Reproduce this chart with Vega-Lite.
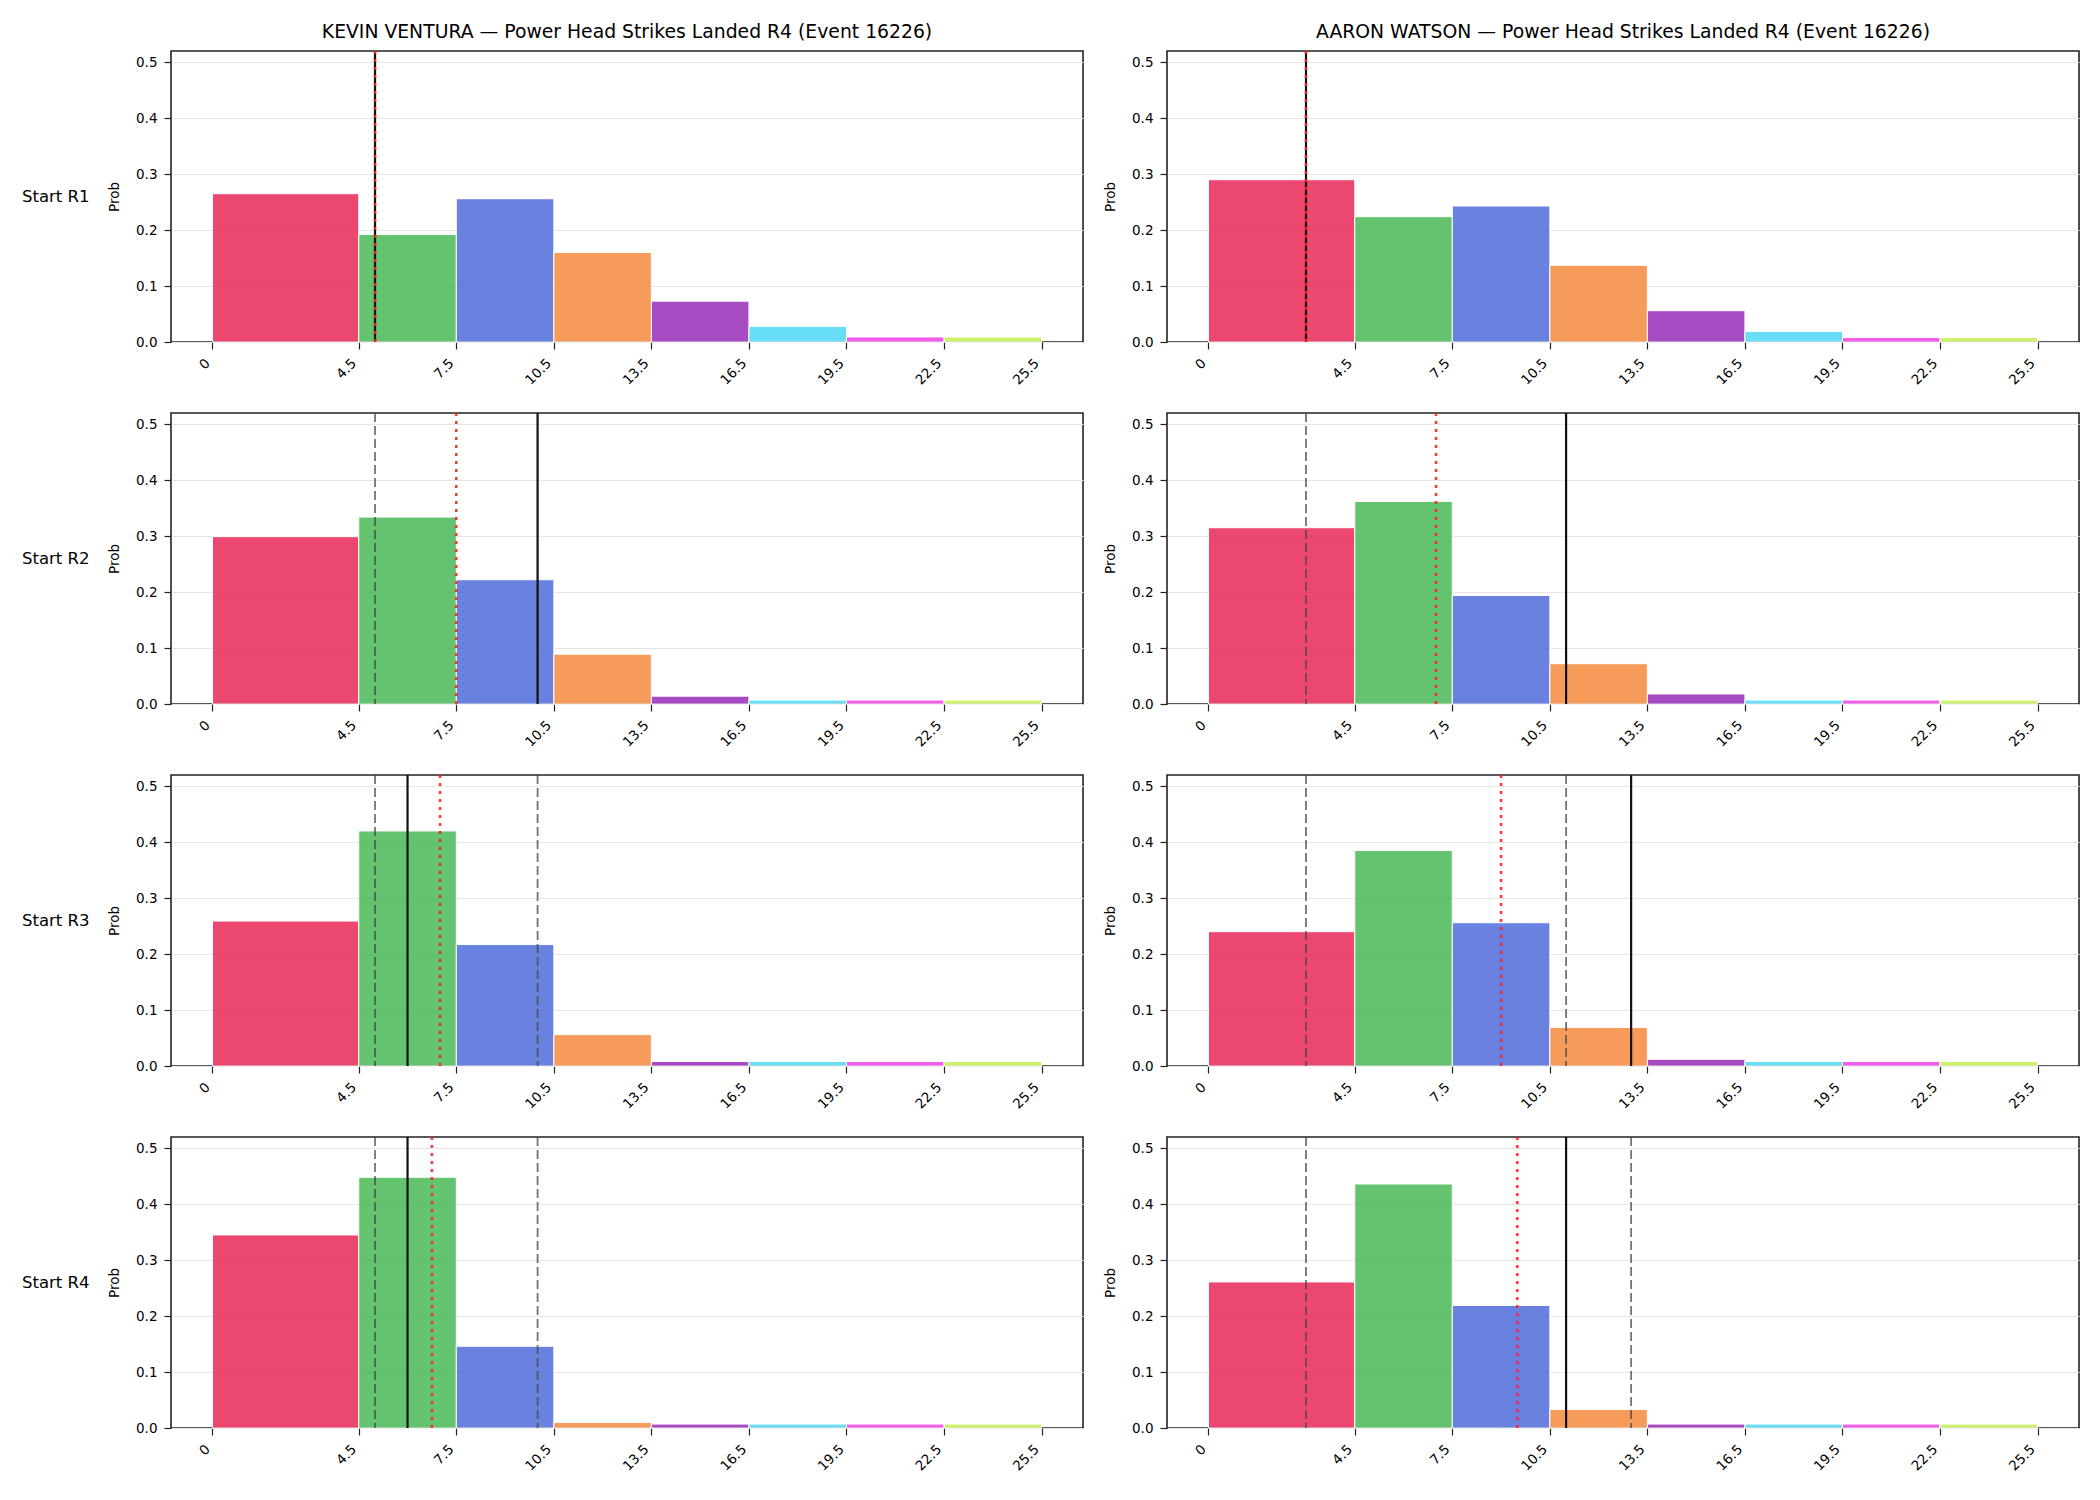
{
  "$schema": "https://vega.github.io/schema/vega-lite/v6.json",
  "background": "white",
  "padding": {"left": 21, "top": 23, "right": 10, "bottom": 10},
  "config": {
    "font": "DejaVu Sans",
    "view": {"stroke": "#222222", "strokeWidth": 1.6},
    "axis": {"labelColor": "#000000", "tickColor": "#222222", "titleColor": "#000000", "labelFont": "DejaVu Sans", "titleFont": "DejaVu Sans"}
  },
  "data": {
    "values": [
      {"t": "bar", "f": "KEVIN VENTURA", "s": "Start R1", "lo": 0, "hi": 4.5, "p": 0.265},
      {"t": "bar", "f": "KEVIN VENTURA", "s": "Start R1", "lo": 4.5, "hi": 7.5, "p": 0.192},
      {"t": "bar", "f": "KEVIN VENTURA", "s": "Start R1", "lo": 7.5, "hi": 10.5, "p": 0.256},
      {"t": "bar", "f": "KEVIN VENTURA", "s": "Start R1", "lo": 10.5, "hi": 13.5, "p": 0.160},
      {"t": "bar", "f": "KEVIN VENTURA", "s": "Start R1", "lo": 13.5, "hi": 16.5, "p": 0.073},
      {"t": "bar", "f": "KEVIN VENTURA", "s": "Start R1", "lo": 16.5, "hi": 19.5, "p": 0.028},
      {"t": "bar", "f": "KEVIN VENTURA", "s": "Start R1", "lo": 19.5, "hi": 22.5, "p": 0.009},
      {"t": "bar", "f": "KEVIN VENTURA", "s": "Start R1", "lo": 22.5, "hi": 25.5, "p": 0.009},
      {"t": "bar", "f": "AARON WATSON", "s": "Start R1", "lo": 0, "hi": 4.5, "p": 0.290},
      {"t": "bar", "f": "AARON WATSON", "s": "Start R1", "lo": 4.5, "hi": 7.5, "p": 0.224},
      {"t": "bar", "f": "AARON WATSON", "s": "Start R1", "lo": 7.5, "hi": 10.5, "p": 0.243},
      {"t": "bar", "f": "AARON WATSON", "s": "Start R1", "lo": 10.5, "hi": 13.5, "p": 0.137},
      {"t": "bar", "f": "AARON WATSON", "s": "Start R1", "lo": 13.5, "hi": 16.5, "p": 0.056},
      {"t": "bar", "f": "AARON WATSON", "s": "Start R1", "lo": 16.5, "hi": 19.5, "p": 0.019},
      {"t": "bar", "f": "AARON WATSON", "s": "Start R1", "lo": 19.5, "hi": 22.5, "p": 0.008},
      {"t": "bar", "f": "AARON WATSON", "s": "Start R1", "lo": 22.5, "hi": 25.5, "p": 0.008},
      {"t": "bar", "f": "KEVIN VENTURA", "s": "Start R2", "lo": 0, "hi": 4.5, "p": 0.299},
      {"t": "bar", "f": "KEVIN VENTURA", "s": "Start R2", "lo": 4.5, "hi": 7.5, "p": 0.334},
      {"t": "bar", "f": "KEVIN VENTURA", "s": "Start R2", "lo": 7.5, "hi": 10.5, "p": 0.222},
      {"t": "bar", "f": "KEVIN VENTURA", "s": "Start R2", "lo": 10.5, "hi": 13.5, "p": 0.089},
      {"t": "bar", "f": "KEVIN VENTURA", "s": "Start R2", "lo": 13.5, "hi": 16.5, "p": 0.014},
      {"t": "bar", "f": "KEVIN VENTURA", "s": "Start R2", "lo": 16.5, "hi": 19.5, "p": 0.007},
      {"t": "bar", "f": "KEVIN VENTURA", "s": "Start R2", "lo": 19.5, "hi": 22.5, "p": 0.007},
      {"t": "bar", "f": "KEVIN VENTURA", "s": "Start R2", "lo": 22.5, "hi": 25.5, "p": 0.007},
      {"t": "bar", "f": "AARON WATSON", "s": "Start R2", "lo": 0, "hi": 4.5, "p": 0.315},
      {"t": "bar", "f": "AARON WATSON", "s": "Start R2", "lo": 4.5, "hi": 7.5, "p": 0.362},
      {"t": "bar", "f": "AARON WATSON", "s": "Start R2", "lo": 7.5, "hi": 10.5, "p": 0.194},
      {"t": "bar", "f": "AARON WATSON", "s": "Start R2", "lo": 10.5, "hi": 13.5, "p": 0.072},
      {"t": "bar", "f": "AARON WATSON", "s": "Start R2", "lo": 13.5, "hi": 16.5, "p": 0.018},
      {"t": "bar", "f": "AARON WATSON", "s": "Start R2", "lo": 16.5, "hi": 19.5, "p": 0.007},
      {"t": "bar", "f": "AARON WATSON", "s": "Start R2", "lo": 19.5, "hi": 22.5, "p": 0.007},
      {"t": "bar", "f": "AARON WATSON", "s": "Start R2", "lo": 22.5, "hi": 25.5, "p": 0.007},
      {"t": "bar", "f": "KEVIN VENTURA", "s": "Start R3", "lo": 0, "hi": 4.5, "p": 0.259},
      {"t": "bar", "f": "KEVIN VENTURA", "s": "Start R3", "lo": 4.5, "hi": 7.5, "p": 0.420},
      {"t": "bar", "f": "KEVIN VENTURA", "s": "Start R3", "lo": 7.5, "hi": 10.5, "p": 0.217},
      {"t": "bar", "f": "KEVIN VENTURA", "s": "Start R3", "lo": 10.5, "hi": 13.5, "p": 0.056},
      {"t": "bar", "f": "KEVIN VENTURA", "s": "Start R3", "lo": 13.5, "hi": 16.5, "p": 0.008},
      {"t": "bar", "f": "KEVIN VENTURA", "s": "Start R3", "lo": 16.5, "hi": 19.5, "p": 0.008},
      {"t": "bar", "f": "KEVIN VENTURA", "s": "Start R3", "lo": 19.5, "hi": 22.5, "p": 0.008},
      {"t": "bar", "f": "KEVIN VENTURA", "s": "Start R3", "lo": 22.5, "hi": 25.5, "p": 0.008},
      {"t": "bar", "f": "AARON WATSON", "s": "Start R3", "lo": 0, "hi": 4.5, "p": 0.240},
      {"t": "bar", "f": "AARON WATSON", "s": "Start R3", "lo": 4.5, "hi": 7.5, "p": 0.385},
      {"t": "bar", "f": "AARON WATSON", "s": "Start R3", "lo": 7.5, "hi": 10.5, "p": 0.256},
      {"t": "bar", "f": "AARON WATSON", "s": "Start R3", "lo": 10.5, "hi": 13.5, "p": 0.069},
      {"t": "bar", "f": "AARON WATSON", "s": "Start R3", "lo": 13.5, "hi": 16.5, "p": 0.012},
      {"t": "bar", "f": "AARON WATSON", "s": "Start R3", "lo": 16.5, "hi": 19.5, "p": 0.008},
      {"t": "bar", "f": "AARON WATSON", "s": "Start R3", "lo": 19.5, "hi": 22.5, "p": 0.008},
      {"t": "bar", "f": "AARON WATSON", "s": "Start R3", "lo": 22.5, "hi": 25.5, "p": 0.008},
      {"t": "bar", "f": "KEVIN VENTURA", "s": "Start R4", "lo": 0, "hi": 4.5, "p": 0.345},
      {"t": "bar", "f": "KEVIN VENTURA", "s": "Start R4", "lo": 4.5, "hi": 7.5, "p": 0.448},
      {"t": "bar", "f": "KEVIN VENTURA", "s": "Start R4", "lo": 7.5, "hi": 10.5, "p": 0.146},
      {"t": "bar", "f": "KEVIN VENTURA", "s": "Start R4", "lo": 10.5, "hi": 13.5, "p": 0.010},
      {"t": "bar", "f": "KEVIN VENTURA", "s": "Start R4", "lo": 13.5, "hi": 16.5, "p": 0.007},
      {"t": "bar", "f": "KEVIN VENTURA", "s": "Start R4", "lo": 16.5, "hi": 19.5, "p": 0.007},
      {"t": "bar", "f": "KEVIN VENTURA", "s": "Start R4", "lo": 19.5, "hi": 22.5, "p": 0.007},
      {"t": "bar", "f": "KEVIN VENTURA", "s": "Start R4", "lo": 22.5, "hi": 25.5, "p": 0.007},
      {"t": "bar", "f": "AARON WATSON", "s": "Start R4", "lo": 0, "hi": 4.5, "p": 0.261},
      {"t": "bar", "f": "AARON WATSON", "s": "Start R4", "lo": 4.5, "hi": 7.5, "p": 0.436},
      {"t": "bar", "f": "AARON WATSON", "s": "Start R4", "lo": 7.5, "hi": 10.5, "p": 0.219},
      {"t": "bar", "f": "AARON WATSON", "s": "Start R4", "lo": 10.5, "hi": 13.5, "p": 0.033},
      {"t": "bar", "f": "AARON WATSON", "s": "Start R4", "lo": 13.5, "hi": 16.5, "p": 0.007},
      {"t": "bar", "f": "AARON WATSON", "s": "Start R4", "lo": 16.5, "hi": 19.5, "p": 0.007},
      {"t": "bar", "f": "AARON WATSON", "s": "Start R4", "lo": 19.5, "hi": 22.5, "p": 0.007},
      {"t": "bar", "f": "AARON WATSON", "s": "Start R4", "lo": 22.5, "hi": 25.5, "p": 0.007},
      {"t": "solid", "f": "KEVIN VENTURA", "s": "Start R1", "x": 5},
      {"t": "dot", "f": "KEVIN VENTURA", "s": "Start R1", "x": 5},
      {"t": "solid", "f": "AARON WATSON", "s": "Start R1", "x": 3},
      {"t": "dot", "f": "AARON WATSON", "s": "Start R1", "x": 3},
      {"t": "dash", "f": "KEVIN VENTURA", "s": "Start R2", "x": 5},
      {"t": "dot", "f": "KEVIN VENTURA", "s": "Start R2", "x": 7.5},
      {"t": "solid", "f": "KEVIN VENTURA", "s": "Start R2", "x": 10},
      {"t": "dash", "f": "AARON WATSON", "s": "Start R2", "x": 3},
      {"t": "dot", "f": "AARON WATSON", "s": "Start R2", "x": 7},
      {"t": "solid", "f": "AARON WATSON", "s": "Start R2", "x": 11},
      {"t": "dash", "f": "KEVIN VENTURA", "s": "Start R3", "x": 5},
      {"t": "solid", "f": "KEVIN VENTURA", "s": "Start R3", "x": 6},
      {"t": "dot", "f": "KEVIN VENTURA", "s": "Start R3", "x": 7},
      {"t": "dash", "f": "KEVIN VENTURA", "s": "Start R3", "x": 10},
      {"t": "dash", "f": "AARON WATSON", "s": "Start R3", "x": 3},
      {"t": "dot", "f": "AARON WATSON", "s": "Start R3", "x": 9},
      {"t": "dash", "f": "AARON WATSON", "s": "Start R3", "x": 11},
      {"t": "solid", "f": "AARON WATSON", "s": "Start R3", "x": 13},
      {"t": "dash", "f": "KEVIN VENTURA", "s": "Start R4", "x": 5},
      {"t": "solid", "f": "KEVIN VENTURA", "s": "Start R4", "x": 6},
      {"t": "dot", "f": "KEVIN VENTURA", "s": "Start R4", "x": 6.75},
      {"t": "dash", "f": "KEVIN VENTURA", "s": "Start R4", "x": 10},
      {"t": "dash", "f": "AARON WATSON", "s": "Start R4", "x": 3},
      {"t": "dot", "f": "AARON WATSON", "s": "Start R4", "x": 9.5},
      {"t": "solid", "f": "AARON WATSON", "s": "Start R4", "x": 11},
      {"t": "dash", "f": "AARON WATSON", "s": "Start R4", "x": 13}
    ]
  },
  "facet": {
    "row": {"field": "s", "type": "nominal", "sort": ["Start R1", "Start R2", "Start R3", "Start R4"], "header": {"title": null, "labelAngle": 0, "labelOrient": "left", "labelFontSize": 16.5, "labelColor": "#000000", "labelPadding": -51, "labelFont": "DejaVu Sans"}},
    "column": {"field": "f", "type": "nominal", "sort": ["KEVIN VENTURA", "AARON WATSON"], "header": {"title": null, "labelFontSize": 18.8, "labelColor": "#000000", "labelPadding": 6, "labelFont": "DejaVu Sans", "labelExpr": "datum.value + ' — Power Head Strikes Landed R4 (Event 16226)'"}}
  },
  "spacing": {"row": 22, "column": 18},
  "resolve": {"axis": {"x": "independent", "y": "independent"}},
  "spec": {
    "width": 912,
    "height": 291,
    "layer": [
      {
        "transform": [{"filter": "datum.t == 'bar'"}],
        "mark": {"type": "bar", "fillOpacity": 0.8, "stroke": "#ffffff", "strokeWidth": 1},
        "encoding": {
          "x": {"field": "lo", "type": "quantitative", "title": null, "scale": {"domain": [-1.275, 26.775], "nice": false, "zero": false},
            "axis": {"values": [0, 4.5, 7.5, 10.5, 13.5, 16.5, 19.5, 22.5, 25.5], "labelExpr": "datum.value == 0 ? '0' : format(datum.value, '.1f')", "labelAngle": -45, "labelFontSize": 13.5, "tickSize": 7, "tickWidth": 1.2, "domain": false, "grid": false, "labelPadding": 7, "labelOffset": -10}},
          "x2": {"field": "hi"},
          "y": {"field": "p", "type": "quantitative", "title": "Prob", "scale": {"domain": [0, 0.52], "nice": false, "zero": true},
            "axis": {"values": [0, 0.1, 0.2, 0.3, 0.4, 0.5], "format": ".1f", "labelFontSize": 13.5, "titleFontSize": 13.5, "titleFontWeight": "normal", "titlePadding": 14, "tickSize": 7, "tickWidth": 1.2, "domain": false, "grid": true, "gridColor": "#e6e6e6", "gridWidth": 1, "labelPadding": 7}},
          "y2": {"datum": 0},
          "color": {"field": "lo", "type": "nominal", "legend": null, "scale": {"domain": [0, 4.5, 7.5, 10.5, 13.5, 16.5, 19.5, 22.5], "range": ["#e6194b", "#3cb44b", "#4363d8", "#f58231", "#911eb4", "#42d4f4", "#f032e6", "#bfef45"]}}
        }
      },
      {
        "transform": [{"filter": "datum.t == 'solid'"}],
        "mark": {"type": "rule", "color": "#111111", "strokeWidth": 2.2},
        "encoding": {"x": {"field": "x", "type": "quantitative", "title": null}}
      },
      {
        "transform": [{"filter": "datum.t == 'dash'"}],
        "mark": {"type": "rule", "color": "#444444", "opacity": 0.75, "strokeWidth": 1.8, "strokeDash": [9, 4]},
        "encoding": {"x": {"field": "x", "type": "quantitative", "title": null}}
      },
      {
        "transform": [{"filter": "datum.t == 'dot'"}],
        "mark": {"type": "rule", "color": "#ff2222", "opacity": 0.9, "strokeWidth": 2.6, "strokeDash": [3, 5]},
        "encoding": {"x": {"field": "x", "type": "quantitative", "title": null}}
      }
    ]
  }
}
